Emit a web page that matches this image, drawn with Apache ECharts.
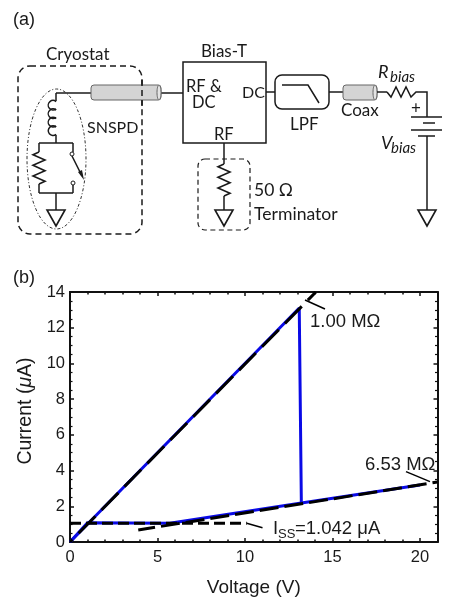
<!DOCTYPE html>
<html>
<head>
<meta charset="utf-8">
<style>
html,body{margin:0;padding:0;background:#fff}
#chart{width:468px;height:612px}
</style>
<script src="https://cdn.jsdelivr.net/npm/echarts@6/dist/echarts.min.js"></script>
</head>
<body>
<div id="chart"></div>
<script>
// data
var bluePath = [[0,0],[1,1.08],[5.7,1.05],[13.22,2.18],[20,3.19]]
var blueRise = [[0,0],[13.1,13.1],[13.22,2.18]]
var fitOhmic = [[0,0],[14.05,14]]
var fitHot = [[3.9,0.67],[21,3.36]]
var fitIss = [[0,1.05],[10.1,1.05]]
var leader1 = [[13.43,13.55],[14.57,13.05]]
var leader2 = [[19.2,3.94],[20.57,3.38]]
var leader3 = [[10.1,1.05],[11,0.8]]
var xTicks = [0,5,10,15,20]
var yTicks = [0,2,4,6,8,10,12,14]

var sans = '"Liberation Sans",Arial,sans-serif'
var cal = 'Lato,"Noto Sans",sans-serif'
var ink = '#1a1a1a'

function txt(x,y,s,size,extra){
  return {type:'text',x:x,y:y,style:Object.assign({text:s,fontSize:size,fontFamily:cal,fill:ink,textVerticalAlign:'middle'},extra||{})}
}
function pl(points,w,dash){
  return {type:'polyline',shape:{points:points},style:{stroke:ink,lineWidth:w||1.5,fill:null,lineDash:dash||null}}
}
function ln(x1,y1,x2,y2,w,dash){return pl([[x1,y1],[x2,y2]],w,dash)}
function box(x,y,w,h,r,dash,lw){
  return {type:'rect',shape:{x:x,y:y,width:w,height:h,r:r},style:{stroke:ink,lineWidth:lw||1.5,fill:null,lineDash:dash||null}}
}
function ground(x,y){
  return {type:'polygon',shape:{points:[[x-9,y],[x+9,y],[x,y+16]]},style:{stroke:ink,lineWidth:1.6,fill:'#fff'}}
}
// vertical zigzag resistor
function zigV(x,y1,y2,amp){
  var n=6,pts=[[x,y1]],step=(y2-y1)/n
  for(var i=0;i<n;i++){pts.push([x+(i%2?amp:-amp),y1+step*(i+.5)])}
  pts.push([x,y2])
  return pl(pts,1.6)
}
function coax(x,y,w,h){
  return [
    {type:'rect',shape:{x:x,y:y,width:w,height:h,r:3},style:{fill:'#d4d4d4',stroke:'#666',lineWidth:1}},
    {type:'ellipse',shape:{cx:x+w-2,cy:y+h/2,rx:2,ry:h/2},style:{fill:'#e4e4e4',stroke:'#666',lineWidth:1}}
  ]
}
function coil(x,y,n,d){
  var out=[]
  for(var i=0;i<n;i++){
    out.push({type:'arc',shape:{cx:x,cy:y+d/2+i*d,r:d/2+.5,startAngle:Math.PI/2-.7,endAngle:Math.PI*1.5+.7,clockwise:true},style:{stroke:ink,lineWidth:1.5,fill:null}})
  }
  return out
}

var diagram = [
  txt(13,20,'(a)',18,{fontFamily:sans}),
  txt(46,55,'Cryostat',17),
  box(18,66,124,168,12,[6,4]),
  {type:'ellipse',shape:{cx:56.5,cy:159,rx:29.5,ry:70},style:{stroke:'#333',lineWidth:1,fill:null,lineDash:[3,2,1,2]}},
  ln(56,93,91,93),
  ln(161,93,183,93)
].concat(coax(91,85,70,15)).concat([
  ln(142,80,142,110,1.5,[6,4]),
  txt(87,128,'SNSPD',16)
]).concat(coil(53,101,4,8.5)).concat([
  ln(56,93,56,101),ln(56,135,56,143),
  ln(39,143,73,143),
  ln(39,143,39,152),zigV(39,152,184,6),ln(39,184,39,193),
  ln(39,193,73,193),ln(73,193,73,185),ln(73,152,73,143),
  ln(56,193,56,210),
  ground(56,210),
  {type:'circle',shape:{cx:72,cy:154,r:2},style:{stroke:ink,lineWidth:1,fill:'#fff'}},
  {type:'circle',shape:{cx:73,cy:183,r:2},style:{stroke:ink,lineWidth:1,fill:'#fff'}},
  ln(72,156,82,176,1.5),
  {type:'polygon',shape:{points:[[84,180],[78,172],[82,170]]},style:{fill:ink}},
  txt(201,52,'Bias-T',17),
  box(183,62,83,81,0),
  txt(186,87,'RF &',16.5),
  txt(192,103,'DC',16.5),
  txt(242,93,'DC',16),
  txt(214,135,'RF',16.5),
  ln(224,143,224,164),zigV(224,164,196,6),ln(224,196,224,210),ground(224,210),
  box(198,159,52,71,7,[5,3.5],1.2),
  txt(254,190,'50 Ω',17.5),
  txt(254,214,'Terminator',17.6),
  ln(266,92,275,92),
  box(275,75,54,34,7,null,1.5),
  pl([[282,85],[308,85],[319,103]],1.5),
  txt(290,125,'LPF',17),
  ln(329,92,343,92)
]).concat(coax(343,85,34,15)).concat([
  txt(341,111,'Coax',17),
  ln(377,92,387,92),
  pl([[387,92],[391,97],[396,87],[401,97],[406,87],[411,97],[416,92],[427,92],[427,117]],1.5),
  txt(378,72,'R',18,{fontStyle:'italic'}),
  txt(390,77,'bias',15,{fontStyle:'italic'}),
  txt(411,109,'+',17),
  ln(411,117,442,117),ln(423,123,435,123),ln(411,130,442,130),ln(418,136,435,136),
  ln(427,136,427,210),ground(427,210),
  txt(381,143,'V',18,{fontStyle:'italic'}),
  txt(391,148,'bias',15,{fontStyle:'italic'}),
  txt(13,278,'(b)',18,{fontFamily:sans})
])

function lineSeries(data,color,w,dash,z,offset){
  return {type:'line',data:data,symbol:'none',silent:true,z:z,lineStyle:{color:color,width:w,type:dash||'solid',dashOffset:offset||0,cap:'butt'}}
}

// one axis per edge and tick size, ticks point into the plot
function xAxisOf(position,interval,len,labels){
  return {
    type:'value',position:position,min:0,max:21,interval:interval,
    name:labels?'Voltage (V)':'',nameLocation:'middle',nameGap:36,
    nameTextStyle:{fontFamily:sans,fontSize:19,color:ink},
    axisLine:{show:true,onZero:false,lineStyle:{color:'#111',width:2}},
    axisTick:{inside:true,length:len,lineStyle:{color:'#111',width:1.5}},
    axisLabel:{show:!!labels,fontFamily:sans,fontSize:16.5,color:ink,margin:7,
      formatter:function(v){return xTicks.indexOf(v)>=0?v:''}},
    splitLine:{show:false}
  }
}
function yAxisOf(position,labels){
  return {
    type:'value',position:position,min:0,max:14,interval:2,
    name:labels?'Current ({i|μ}A)':'',nameLocation:'middle',nameGap:33,
    nameTextStyle:{fontFamily:sans,fontSize:19.5,color:ink,padding:[0,0,0,12],
      rich:{i:{fontFamily:sans,fontSize:19.5,fontStyle:'italic',color:ink}}},
    axisLine:{show:true,onZero:false,lineStyle:{color:'#111',width:2}},
    axisTick:{inside:true,length:4,lineStyle:{color:'#111',width:1.5}},
    minorTick:{show:true,splitNumber:4,length:2.5,lineStyle:{color:'#111',width:1.2}},
    axisLabel:{show:!!labels,fontFamily:sans,fontSize:16.5,color:ink,margin:5,
      formatter:function(v){return yTicks.indexOf(v)>=0?v:''}},
    splitLine:{show:false}
  }
}

var chart = echarts.init(document.getElementById('chart'))
var option = {
  animation:false,
  backgroundColor:'#fff',
  grid:{left:70,right:30.5,top:292,bottom:70},
  xAxis:[xAxisOf('bottom',1,2.5,true),xAxisOf('top',1,2.5,false),xAxisOf('bottom',5,4,false),xAxisOf('top',5,4,false)],
  yAxis:[yAxisOf('left',true),yAxisOf('right',false)],
  series:[
    lineSeries(bluePath,'#0a0ae6',3,'solid',2),
    lineSeries(blueRise,'#0a0ae6',3,'solid',2),
    lineSeries(fitOhmic,'#000',3,[24,8.7],3,20.5),
    lineSeries(fitHot,'#000',3,[19,6],3,2),
    lineSeries(fitIss,'#000',3,[11,5],3),
    lineSeries(leader1,'#000',1.5,'solid',3),
    lineSeries(leader2,'#000',1.5,'solid',3),
    lineSeries(leader3,'#000',1.5,'solid',3)
  ],
  graphic:diagram.concat([
    txt(310,322,'1.00 MΩ',18.5,{fontFamily:sans}),
    txt(365,465,'6.53 MΩ',18.5,{fontFamily:sans}),
    txt(273,529,'I',18.5,{fontFamily:sans}),
    txt(278,534,'SS',13,{fontFamily:sans}),
    txt(295,529,'=1.042 μA',18.5,{fontFamily:sans})
  ])
}
chart.setOption(option)
</script>
</body>
</html>
